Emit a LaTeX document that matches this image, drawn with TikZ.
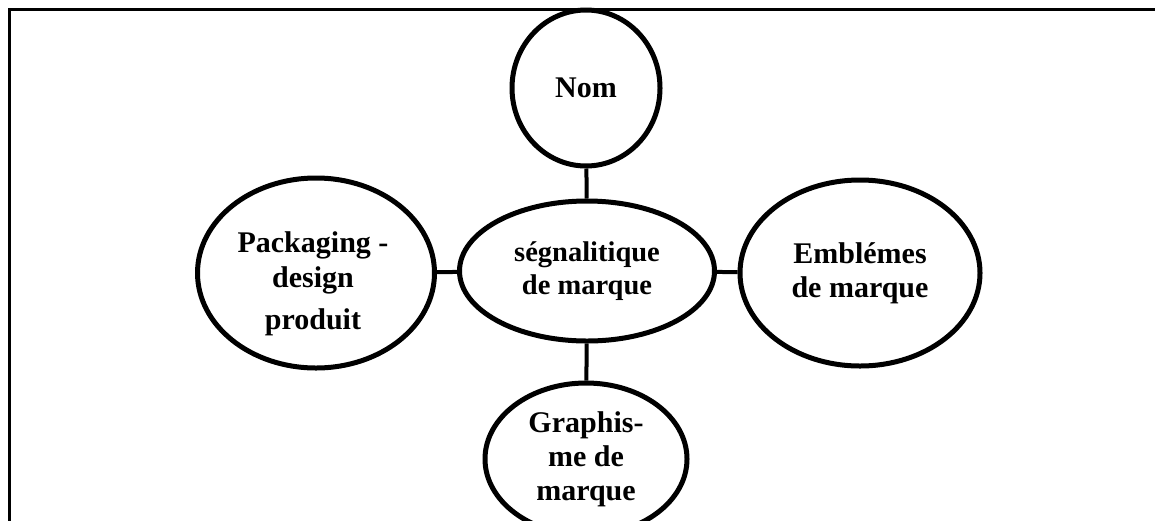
\documentclass[tikz,border=0pt]{standalone}
\usepackage{fontspec}
\setmainfont{Liberation Serif}
\usetikzlibrary{shapes.geometric}
\begin{document}
\begin{tikzpicture}[x=1pt,y=-1pt,
  blob/.style={draw, ellipse, line width=5pt, inner sep=0pt, align=center,
    font=\fontsize{30}{34}\selectfont\bfseries},
  txt/.style={align=center, inner sep=0pt, font=\fontsize{30}{35}\selectfont\bfseries},
  link/.style={line width=4pt}]
\useasboundingbox (0,0) rectangle (1155,520);
\begin{scope}
\clip (0,0) rectangle (1155,520);
% page frame
\draw[line width=2.5pt] (9.5,540) -- (9.5,9.5) -- (1170,9.5);

% brand identity elements
\node[blob, minimum width=148pt, minimum height=156pt] (nom) at (586,88) {Nom};
\node[blob, minimum width=255pt, minimum height=140pt, font=\fontsize{28.5}{33}\selectfont\bfseries] (sig) at (587,271) {ségnalitique\\de marque};
\node[blob, minimum width=237pt, minimum height=190pt] (pack) at (316,273) {};
\node[txt] (packtext) at (313,284) {Packaging -\\design\\[7pt]produit};
\node[blob, minimum width=240pt, minimum height=186pt] (emb) at (860,273) {Emblémes\\de marque};
\node[blob, minimum width=202pt, minimum height=152pt] (graph) at (586,459) {Graphis-\\me de\\marque};

% links to the centre
\draw[link] (nom) -- (sig);
\draw[link] (pack) -- (sig);
\draw[link] (sig) -- (emb);
\draw[link] (sig) -- (graph);
\end{scope}
\end{tikzpicture}
\end{document}
